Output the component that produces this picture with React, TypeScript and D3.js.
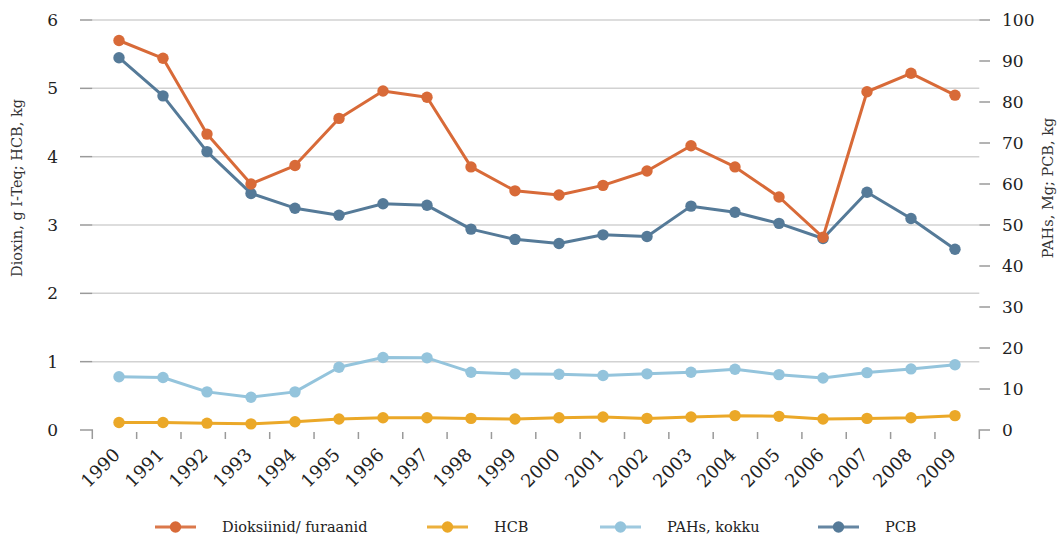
import React from "react";
import * as d3 from "d3";

const years = ["1990","1991","1992","1993","1994","1995","1996","1997","1998","1999","2000","2001","2002","2003","2004","2005","2006","2007","2008","2009"];
const dioxin = [5.70,5.44,4.33,3.60,3.87,4.56,4.96,4.87,3.85,3.50,3.44,3.58,3.79,4.16,3.85,3.41,2.82,4.95,5.22,4.90];
const hcb = [0.11,0.11,0.10,0.09,0.12,0.16,0.18,0.18,0.17,0.16,0.18,0.19,0.17,0.19,0.21,0.20,0.16,0.17,0.18,0.21];
const pahs = [13.0,12.8,9.3,8.0,9.3,15.3,17.7,17.6,14.1,13.7,13.6,13.3,13.7,14.1,14.8,13.5,12.7,14.0,14.9,15.9];
const pcb = [90.8,81.5,67.9,57.7,54.1,52.4,55.2,54.8,49.0,46.5,45.5,47.6,47.2,54.6,53.1,50.4,46.7,58.0,51.6,44.1];
const leftTicks = [0,1,2,3,4,5,6];
const rightTicks = [0,10,20,30,40,50,60,70,80,90,100];
const seriesNames = ["Dioksiinid/ furaanid","HCB","PAHs, kokku","PCB"];
const seriesColors = ["#D86A38","#EBA828","#94C4DC","#557A98"];

const W = 1064, H = 545;
const FONT = "'DejaVu Serif', serif";

export default function App() {
  const xBand = d3.scaleBand<string>().domain(years).range([92.3, 979.3]);
  const xPt = d3.scalePoint<string>().domain(years).range([119, 955]);
  const yL = d3.scaleLinear().domain([0, 6]).range([430, 20]);
  const yR = d3.scaleLinear().domain([0, 100]).range([430, 20]);

  const series = [
    { name: seriesNames[0], color: seriesColors[0], values: dioxin, y: yL },
    { name: seriesNames[1], color: seriesColors[1], values: hcb, y: yL },
    { name: seriesNames[2], color: seriesColors[2], values: pahs, y: yR },
    { name: seriesNames[3], color: seriesColors[3], values: pcb, y: yR },
  ];
  const drawOrder = [1, 2, 3, 0];

  const x0 = xBand.range()[0];
  const x1 = xBand.range()[1];
  const base = yL(0);

  const legendX = [155, 427, 600, 818];

  return (
    <svg width={W} height={H} style={{ position: "absolute", left: 0, top: 0, fontFamily: FONT }}>
      <rect width={W} height={H} fill="#fff" />
      {leftTicks.filter(t => t > 0).map(t => (
        <g key={"gl" + t}>
          <line x1={x0} x2={x1} y1={yL(t)} y2={yL(t)} stroke="#d2d2d2" strokeWidth={1.5} />
          <line x1={80} x2={x0} y1={yL(t)} y2={yL(t)} stroke="#9a9a9a" strokeWidth={1.5} />
          <text x={58} y={yL(t)} dy="0.35em" textAnchor="end" fontSize={17} fill="#222">{t}</text>
        </g>
      ))}
      <path d={`M80,${base}H${x0}V${base + 9}`} fill="none" stroke="#9a9a9a" strokeWidth={1.5} />
      <text x={58} y={base} dy="0.35em" textAnchor="end" fontSize={17} fill="#222">0</text>
      {rightTicks.filter(t => t > 0).map(t => (
        <g key={"rt" + t}>
          <line x1={x1} x2={990} y1={yR(t)} y2={yR(t)} stroke="#9a9a9a" strokeWidth={1.5} />
          <text x={1002} y={yR(t)} dy="0.35em" textAnchor="start" fontSize={17} fill="#222">{t}</text>
        </g>
      ))}
      <path d={`M990,${base}H${x1}V${base + 9}`} fill="none" stroke="#9a9a9a" strokeWidth={1.5} />
      <text x={1002} y={base} dy="0.35em" textAnchor="start" fontSize={17} fill="#222">0</text>
      {years.slice(1).map(yr => (
        <line key={"xt" + yr} x1={xBand(yr)!} x2={xBand(yr)!} y1={base + 2} y2={base + 9} stroke="#9a9a9a" strokeWidth={1.5} />
      ))}
      {years.map(yr => (
        <text key={"xl" + yr} transform={`translate(${xPt(yr)! + 2},${base + 26}) rotate(-45)`} textAnchor="end" fontSize={18} fill="#222">{yr}</text>
      ))}
      <text transform={`translate(22,188) rotate(-90)`} textAnchor="middle" fontSize={14.5} fill="#333">Dioxin, g I-Teq; HCB, kg</text>
      <text transform={`translate(1053,188) rotate(-90)`} textAnchor="middle" fontSize={14.5} fill="#333">PAHs, Mg; PCB, kg</text>
      {drawOrder.map(i => {
        const s = series[i];
        const line = d3.line<number>().x((_, j) => xPt(years[j])!).y(v => s.y(v));
        return (
          <g key={s.name}>
            <path d={line(s.values)!} fill="none" stroke={s.color} strokeWidth={3} strokeLinejoin="round" />
            {s.values.map((v, j) => (
              <circle key={j} cx={xPt(years[j])!} cy={s.y(v)} r={5.7} fill={s.color} />
            ))}
          </g>
        );
      })}
      {series.map((s, i) => (
        <g key={"lg" + i}>
          <line x1={legendX[i]} x2={legendX[i] + 41} y1={527} y2={527} stroke={s.color} strokeWidth={3} opacity={0.9} />
          <circle cx={legendX[i] + 20.5} cy={527} r={5.7} fill={s.color} />
          <text x={legendX[i] + 67} y={527} dy="0.35em" fontSize={14.5} fill="#222">{s.name}</text>
        </g>
      ))}
    </svg>
  );
}
